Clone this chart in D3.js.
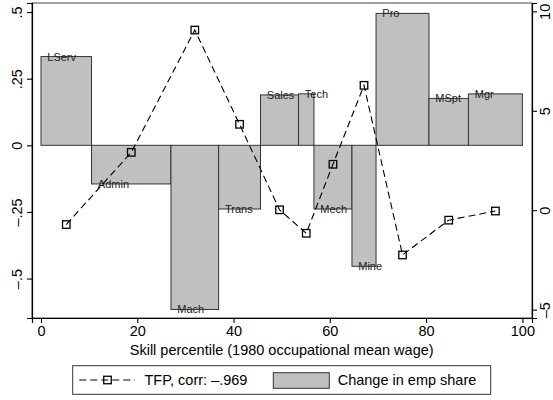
<!DOCTYPE html>
<html>
<head>
<meta charset="utf-8">
<script src="https://cdn.jsdelivr.net/npm/d3@7"></script>
<style>
  html, body { margin: 0; padding: 0; background: #fff; }
  svg { display: block; font-family: "Liberation Sans", Arial, Helvetica, sans-serif; }
</style>
</head>
<body>
<svg id="chart" width="553" height="400"></svg>
<script>
// ---- data ----
const occupations = ["LServ", "Admin", "Mach", "Trans", "Sales", "Tech", "Mech", "Mine", "Pro", "MSpt", "Mgr"];
const barStart    = [0, 10.5, 27.0, 36.9, 45.6, 53.5, 56.7, 64.6, 69.6, 80.6, 88.8];
const barEnd      = [10.5, 27.0, 36.9, 45.6, 53.5, 56.7, 64.6, 69.6, 80.6, 88.8, 100];
const empShareChange = [0.333, -0.145, -0.616, -0.239, 0.189, 0.193, -0.239, -0.454, 0.495, 0.176, 0.193];
const tfpGrowth   = [-0.72, 2.91, 9.06, 4.32, 0.02, -1.16, 2.31, 6.28, -2.25, -0.50, -0.04];
const xTicks = [0, 20, 40, 60, 80, 100];
const yLeftTicks = [0.5, 0.25, 0, -0.25, -0.5];
const yLeftTickLabels = [".5", ".25", "0", "\u2013.25", "\u2013.5"];
const yRightTicks = [10, 5, 0, -5];
const yRightTickLabels = ["10", "5", "0", "\u20135"];
const xTitle = "Skill percentile (1980 occupational mean wage)";
const legendLabels = ["TFP, corr: \u2013.969", "Change in emp share"];

// ---- layout ----
const svg = d3.select("#chart");
const L = 32, R = 532, T = 3, B = 318;

const x = d3.scaleLinear().domain([-1.87, 102.0]).range([L, R]);
const yL = d3.scaleLinear().domain([-0.648, 0.534]).range([B, T]);
const yR = d3.scaleLinear().domain([-5.42, 10.42]).range([B, T]);

// plot region frame
svg.append("rect")
  .attr("x", L).attr("y", T).attr("width", R - L).attr("height", B - T)
  .attr("fill", "none").attr("stroke", "#444").attr("stroke-width", 1);

// bars
const bars = occupations.map((o, i) => ({ name: o, s: barStart[i], e: barEnd[i], v: empShareChange[i], t: tfpGrowth[i] }));
svg.append("g").selectAll("rect").data(bars).join("rect")
  .attr("x", d => x(d.s))
  .attr("width", d => x(d.e) - x(d.s))
  .attr("y", d => Math.min(yL(d.v), yL(0)))
  .attr("height", d => Math.abs(yL(d.v) - yL(0)))
  .attr("fill", "#c0c0c0")
  .attr("stroke", "#333")
  .attr("stroke-width", 1);

// bar labels
svg.append("g").selectAll("text").data(bars).join("text")
  .attr("x", d => x(d.s) + 6.3)
  .attr("y", d => yL(d.v))
  .attr("dy", "0.36em")
  .attr("font-size", 11)
  .attr("fill", "#222")
  .text(d => d.name);

// TFP line
const line = d3.line().x(d => x((d.s + d.e) / 2)).y(d => yR(d.t));
svg.append("path").datum(bars)
  .attr("d", line)
  .attr("fill", "none")
  .attr("stroke", "#000")
  .attr("stroke-width", 1.1)
  .attr("stroke-dasharray", "7,4");

const ms = 7.5;
svg.append("g").selectAll("rect").data(bars).join("rect")
  .attr("x", d => x((d.s + d.e) / 2) - ms / 2)
  .attr("y", d => yR(d.t) - ms / 2)
  .attr("width", ms).attr("height", ms)
  .attr("fill", "none")
  .attr("stroke", "#000")
  .attr("stroke-width", 1.3);

// axes
const fs = 14.5;
const gx = svg.append("g").attr("transform", `translate(0,${B})`)
  .call(d3.axisBottom(x).tickValues(xTicks).tickSize(5).tickPadding(3).tickFormat(d3.format("d")));
gx.selectAll("text").attr("font-size", fs).attr("fill", "#000").attr("font-family", null);

const gl = svg.append("g").attr("transform", `translate(${L},0)`)
  .call(d3.axisLeft(yL).tickValues(yLeftTicks).tickSize(5).tickFormat((d, i) => yLeftTickLabels[i]));
gl.selectAll("text")
  .attr("x", null).attr("dy", null)
  .attr("transform", "translate(-10,0) rotate(-90)")
  .attr("text-anchor", "middle")
  .attr("font-size", fs).attr("fill", "#000");

const gr = svg.append("g").attr("transform", `translate(${R},0)`)
  .call(d3.axisRight(yR).tickValues(yRightTicks).tickSize(5).tickFormat((d, i) => yRightTickLabels[i]));
gr.selectAll("text")
  .attr("x", null).attr("dy", null)
  .attr("transform", "translate(18,0) rotate(-90)")
  .attr("text-anchor", "middle")
  .attr("font-size", fs).attr("fill", "#000");

[gx, gl, gr].forEach(g => {
  g.attr("font-family", null);
  g.select(".domain").attr("stroke", "#000").attr("stroke-width", 1.2);
  g.selectAll(".tick line").attr("stroke", "#000").attr("stroke-width", 1.1);
});

// x axis title
svg.append("text")
  .attr("x", (x(0) + x(100)) / 2)
  .attr("y", 355)
  .attr("text-anchor", "middle")
  .attr("font-size", fs)
  .attr("fill", "#000")
  .text(xTitle);

// legend
const lg = svg.append("g");
lg.append("rect")
  .attr("x", 72.7).attr("y", 365.7).attr("width", 418).attr("height", 28.6)
  .attr("fill", "#fff").attr("stroke", "#333").attr("stroke-width", 1);
lg.append("line")
  .attr("x1", 79.3).attr("x2", 135).attr("y1", 380).attr("y2", 380)
  .attr("stroke", "#000").attr("stroke-width", 1.1).attr("stroke-dasharray", "7,4");
lg.append("rect")
  .attr("x", 107.5 - ms / 2).attr("y", 380 - ms / 2).attr("width", ms).attr("height", ms)
  .attr("fill", "none").attr("stroke", "#000").attr("stroke-width", 1.3);
lg.append("text")
  .attr("x", 144.5).attr("y", 380).attr("dy", "0.36em")
  .attr("font-size", fs).attr("fill", "#000")
  .text(legendLabels[0]);
lg.append("rect")
  .attr("x", 273.3).attr("y", 372.7).attr("width", 56).attr("height", 15.6)
  .attr("fill", "#c0c0c0").attr("stroke", "#333").attr("stroke-width", 1);
lg.append("text")
  .attr("x", 337.7).attr("y", 380).attr("dy", "0.36em")
  .attr("font-size", fs).attr("fill", "#000")
  .text(legendLabels[1]);
</script>
</body>
</html>
